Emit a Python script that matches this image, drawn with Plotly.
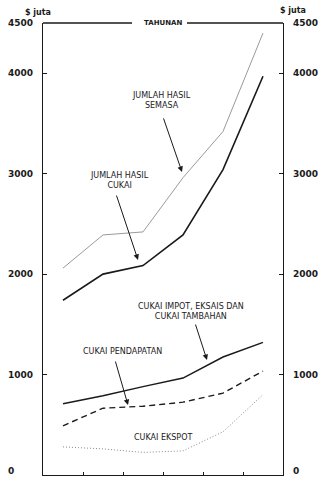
import plotly.graph_objects as go

# x positions: six annual periods (centre of each interval)
periods = [0.5, 1.5, 2.5, 3.5, 4.5, 5.5]

jumlah_hasil_semasa = [2060, 2390, 2420, 2960, 3420, 4400]
jumlah_hasil_cukai = [1740, 2000, 2085, 2390, 3040, 3970]
cukai_impot_eksais = [710, 790, 880, 965, 1175, 1320]
cukai_pendapatan = [490, 665, 685, 725, 815, 1035]
cukai_ekspot = [280, 260, 225, 240, 430, 800]

y_tick_values = [0, 1000, 2000, 3000, 4000, 4500]
y_tick_labels = ["0", "1000", "2000", "3000", "4000", "4500"]

FONT = "DejaVu Sans"
INK = "#1a1a1a"

fig = go.Figure()
fig.add_trace(go.Scatter(x=periods, y=jumlah_hasil_semasa, mode="lines",
                         line=dict(color="#9a9a9a", width=1)))
fig.add_trace(go.Scatter(x=periods, y=jumlah_hasil_cukai, mode="lines",
                         line=dict(color=INK, width=1.6)))
fig.add_trace(go.Scatter(x=periods, y=cukai_impot_eksais, mode="lines",
                         line=dict(color=INK, width=1.5)))
fig.add_trace(go.Scatter(x=periods, y=cukai_pendapatan, mode="lines",
                         line=dict(color=INK, width=1.4, dash="6px,4px")))
fig.add_trace(go.Scatter(x=periods, y=cukai_ekspot, mode="lines",
                         line=dict(color="#8a8a8a", width=1, dash="1px,2px")))

annotations = []
tf = dict(family=FONT, size=9, color=INK)
for v, t in zip(y_tick_values, y_tick_labels):
    anchor = "bottom" if v == 0 else "middle"
    shift = -3 if v == 0 else 0
    for xp in (-0.154, 1.033):
        annotations.append(dict(x=xp, xref="paper", y=v, yref="y", text="<b>%s</b>" % t,
                                showarrow=False, xanchor="left", yanchor=anchor,
                                yshift=shift, font=tf))
uf = dict(family=FONT, size=8, color=INK)
annotations.append(dict(x=-0.083, xref="paper", y=1.024, yref="paper", text="<b>$ juta</b>",
                        showarrow=False, xanchor="left", yanchor="middle", font=uf))
annotations.append(dict(x=0.979, xref="paper", y=1.028, yref="paper", text="<b>$ juta</b>",
                        showarrow=False, xanchor="left", yanchor="middle", font=uf))
annotations.append(dict(x=0.5, xref="paper", y=1.0, yref="paper", text="<b>TAHUNAN</b>",
                        showarrow=False, xanchor="center", yanchor="middle",
                        font=dict(family=FONT, size=7, color=INK)))

lf = dict(family=FONT, size=8, color=INK)
labels = [
    ("JUMLAH HASIL<br>SEMASA", 2.95, 3725),
    ("JUMLAH HASIL<br>CUKAI", 1.9, 2933),
    ("CUKAI IMPOT, EKSAIS DAN<br>CUKAI TAMBAHAN", 3.7, 1628),
    ("CUKAI PENDAPATAN", 1.975, 1225),
    ("CUKAI EKSPOT", 3.0, 378),
]
for t, x, y in labels:
    annotations.append(dict(x=x, y=y, xref="x", yref="y", text=t, showarrow=False,
                            xanchor="center", yanchor="middle", font=lf))

arrows = [
    (3.0, 3565, 3.475, 3017),
    (1.825, 2797, 2.375, 2141),
    (3.8, 1513, 4.1, 1145),
    (1.8, 1145, 2.125, 697),
]
for tx, ty, hx, hy in arrows:
    annotations.append(dict(x=hx, y=hy, ax=tx, ay=ty, xref="x", yref="y", axref="x", ayref="y",
                            text="", showarrow=True, arrowhead=2, arrowsize=1.1,
                            arrowwidth=1, arrowcolor=INK))

shapes = [
    dict(type="line", xref="paper", yref="paper", x0=0, x1=0.371, y0=1, y1=1,
         line=dict(color=INK, width=1.3)),
    dict(type="line", xref="paper", yref="paper", x0=0.6, x1=1, y0=1, y1=1,
         line=dict(color=INK, width=1.3)),
]

fig.update_layout(
    width=320, height=478,
    margin=dict(l=43, r=37, t=23, b=3),
    paper_bgcolor="white", plot_bgcolor="white",
    showlegend=False,
    annotations=annotations, shapes=shapes,
    xaxis=dict(range=[0, 6], showgrid=False, zeroline=False, showline=True,
               linecolor=INK, linewidth=1.3, ticks="inside", ticklen=3,
               tickcolor=INK, tickvals=[1, 2, 3, 4, 5], showticklabels=False,
               fixedrange=True),
    yaxis=dict(range=[0, 4500], showgrid=False, zeroline=False, showline=True,
               linecolor=INK, linewidth=1.3, mirror="ticks", ticks="inside",
               ticklen=4, tickcolor=INK, tickvals=[1000, 2000, 3000, 4000],
               showticklabels=False, fixedrange=True),
)

fig.write_html("out.html", config={"displayModeBar": False},
               post_script="document.body.style.margin='0';document.body.style.overflow='hidden';")
